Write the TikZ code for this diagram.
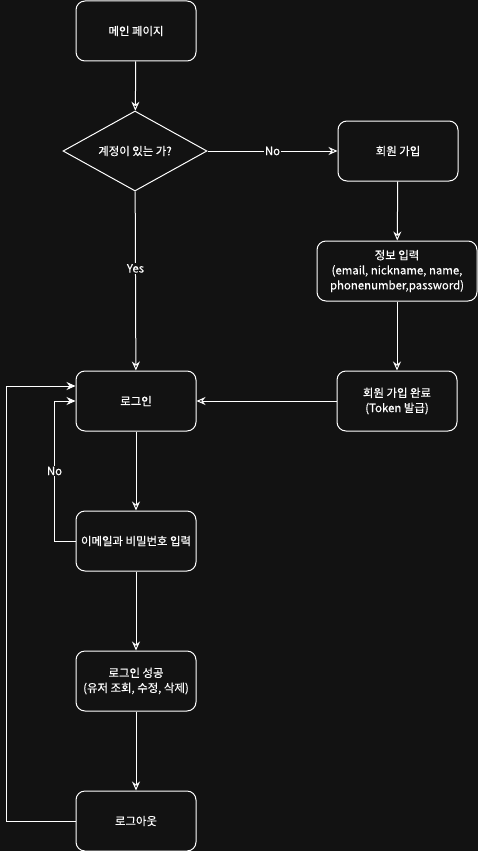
\documentclass[tikz,border=0pt]{standalone}
\usepackage{fontspec}
\setmainfont{Noto Sans CJK KR}
\newfontfamily\flowfont{Noto Sans CJK KR}[FakeBold=0.4]
\usetikzlibrary{arrows.meta,shapes.geometric,positioning}
\definecolor{bgdark}{HTML}{121212}

\begin{document}
\begin{tikzpicture}[x=1pt,y=-1pt,
every node/.style={
        font=\flowfont\fontsize{11.4}{15}\selectfont, text=white
    },
  box/.style = {rectangle, draw=white, fill=bgdark, line width=1pt,
                rounded corners=9pt, minimum width=120pt, minimum height=60pt,
                align=center, inner sep=2pt},
  choice/.style = {diamond, draw=white, fill=bgdark, line width=1pt,
                   aspect=1.8, minimum width=144pt, minimum height=80pt, inner sep=0pt},
  lbl/.style = {fill=bgdark, inner sep=1pt},% style for edge labels
  line/.style = {draw=white, line width=1pt,
                 -{Stealth[length=9pt,width=8pt,inset=3pt]}}
    ]
\useasboundingbox (0,0) rectangle (478,851);
\fill[bgdark] (0,0) rectangle (478,851);

\node (Main)    [box]    at (136,31)  {메인 페이지};
\node (Account) [choice] at (135,151) {계정이 있는 가?};
\node (Signup)  [box]    at (398,151) {회원 가입};
\node (Info)    [box, minimum width=160pt] at (397,271)
        {정보 입력\\(email, nickname, name,\\phonenumber,password)};
\node (Done)    [box]    at (397,401) {회원 가입 완료\\(Token 발급)};
\node (Login)   [box]    at (136,401) {로그인};
\node (Input)   [box]    at (136,541) {이메일과 비밀번호 입력};
\node (Success) [box]    at (136,681) {로그인 성공\\(유저 조회, 수정, 삭제)};
\node (Logout)  [box]    at (136,821) {로그아웃};

\path[line]
    (Main)    edge (Account)
    (Account) edge node[lbl] {No} (Signup)
    (Account) edge node[lbl, pos=0.43] {Yes} (Login)
    (Signup)  edge (Info)
    (Info)    edge (Done)
    (Done)    edge (Login)
    (Login)   edge (Input)
    (Input)   edge (Success)
    (Success) edge (Logout);
\draw[line] (Input.west) -- ++(-21,0) |- node[lbl, pos=0.25] {No} (Login.west);
\draw[line] (Logout.west) -- ++(-69,0) |- ([yshift=15pt]Login.west);
\end{tikzpicture}
\end{document}
